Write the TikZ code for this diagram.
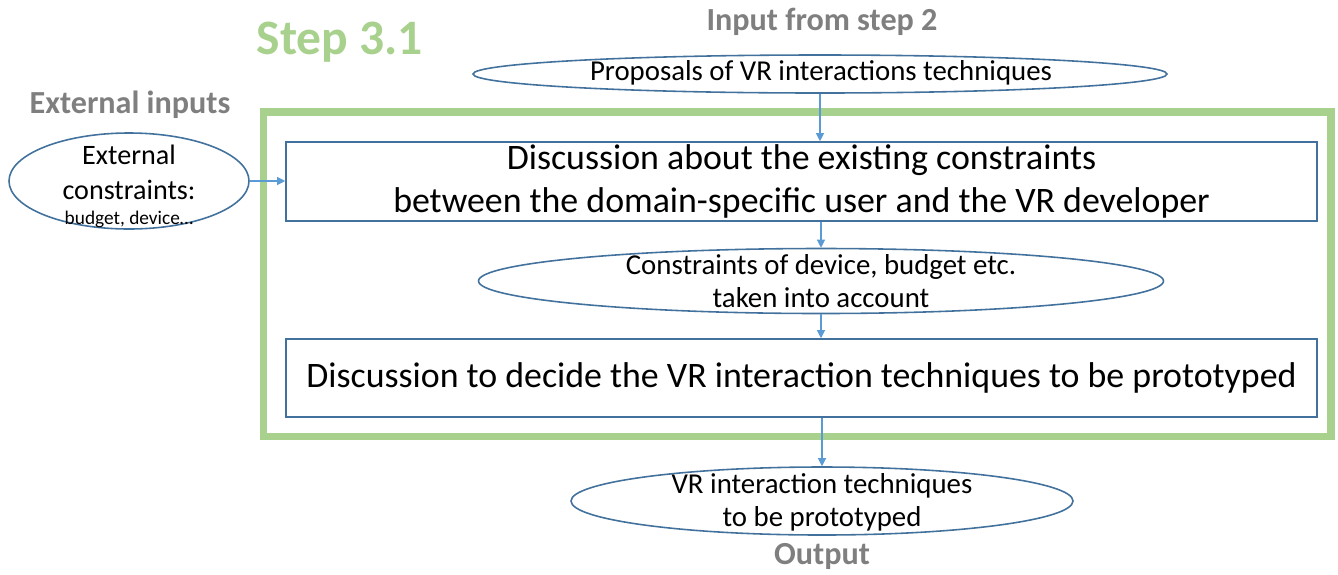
\documentclass[tikz,border=0pt]{standalone}
\usepackage{fontspec}
\setmainfont{Carlito}
\usepackage{tikz}
\usetikzlibrary{arrows.meta,shapes.geometric}
\definecolor{stepgreen}{RGB}{169,209,142}
\definecolor{labelgrey}{RGB}{127,127,127}
\definecolor{boxblue}{RGB}{65,113,156}
\definecolor{arrowblue}{RGB}{91,155,213}

\begin{document}
\begin{tikzpicture}[every node/.style={inner sep=0pt, align=center},
  oval/.style={ellipse, draw=boxblue, line width=0.9pt},
  flowbox/.style={rectangle, draw=boxblue, line width=0.9pt, minimum width=206.2mm},
  flow/.style={draw=arrowblue, line width=0.6pt, -{Triangle[length=1.6mm,width=1.6mm]}},
  heading/.style={font=\bfseries\fontsize{18.3}{20}\selectfont, text=labelgrey}]
  \useasboundingbox (0,0) rectangle (26.76,-11.48);

  % titles
  \node[font=\bfseries\fontsize{28.2}{32}\selectfont, text=stepgreen] (steptitle) at (6.8,-0.84) {Step 3.1};
  \node[heading] (inputtitle) at (16.44,-0.44) {Input from step 2};
  \node[heading] (externaltitle) at (2.6,-2.1) {External inputs};
  \node[heading] (outputtitle) at (16.44,-11.12) {Output};

  % green frame of step 3.1
  \draw[stepgreen, line width=4.5pt] (5.27,-2.24) rectangle (26.62,-8.73);

  % input from step 2
  \node[oval, minimum width=138.8mm, minimum height=7.6mm] (proposals) at (16.4,-1.48) {};
  \node[font=\fontsize{16.4}{18}\selectfont] (proposalstext) at (16.42,-1.46) {Proposals of VR interactions techniques};

  % external inputs
  \node[oval, minimum width=48mm, minimum height=19.2mm] (external) at (2.58,-3.62) {};
  \node[font=\fontsize{16}{20}\selectfont] (externaltext) at (2.58,-3.73)
    {External\\constraints:\\[-6pt]{\fontsize{11}{12}\selectfont budget, device…}};

  % discussions inside the step
  \node[flowbox, minimum height=15.8mm, font=\fontsize{20.4}{24.5}\selectfont] (constraints) at (16.03,-3.63)
    {Discussion about the existing constraints\\between the domain-specific user and the VR developer};
  \node[oval, minimum width=137mm, minimum height=13mm] (accounted) at (16.42,-5.62) {};
  \node[font=\fontsize{16.4}{18.5}\selectfont] (accountedtext) at (accounted)
    {Constraints of device, budget etc.\\taken into account};
  \node[flowbox, minimum height=15.6mm, font=\fontsize{20.4}{24.5}\selectfont] (decide) at (16.03,-7.56)
    {Discussion to decide the VR interaction techniques to be prototyped};

  % output
  \node[oval, minimum width=100.4mm, minimum height=13.6mm] (techniques) at (16.44,-10.02) {};
  \node[font=\fontsize{16.4}{19}\selectfont] (techniquestext) at (16.44,-10.05)
    {VR interaction techniques\\to be prototyped};

  % arrows
  \draw[flow] (proposals.south) -- (proposals.south |- constraints.north);
  \draw[flow] (external.east) -- (external.east -| constraints.west);
  \draw[flow] (accounted.north |- constraints.south) -- (accounted.north);
  \draw[flow] (accounted.south) -- (accounted.south |- decide.north);
  \draw[flow] (techniques.north |- decide.south) -- (techniques.north);
\end{tikzpicture}
\end{document}
